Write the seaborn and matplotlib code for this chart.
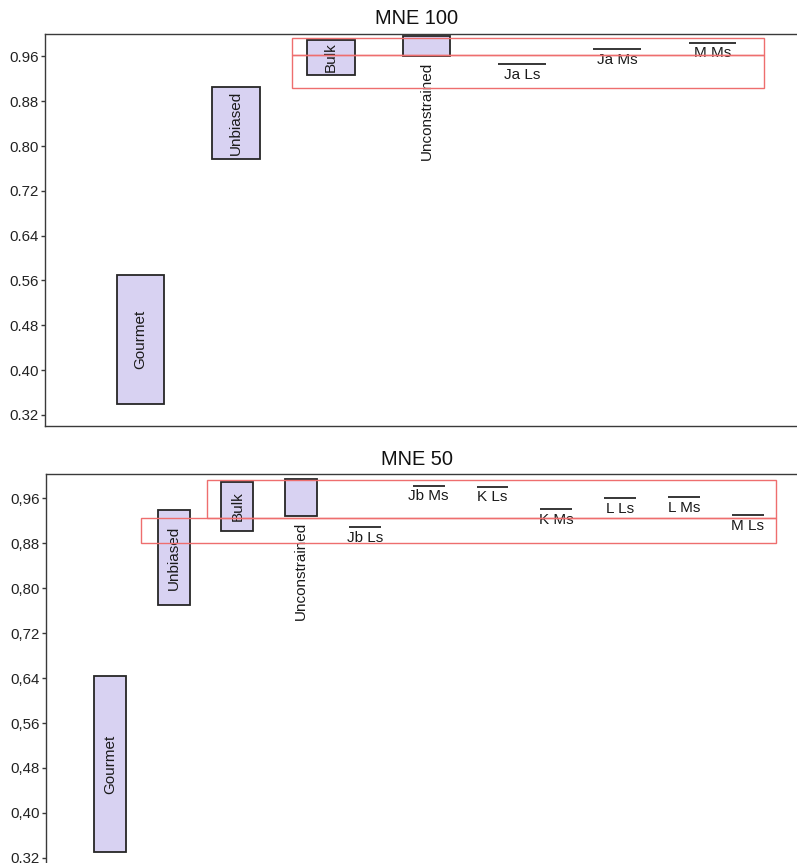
import pandas as pd
import seaborn as sns
import matplotlib.pyplot as plt
from matplotlib.patches import Rectangle
from matplotlib.ticker import FuncFormatter

# ----------- values -----------------------------------------

cats_100 = ["Gourmet", "Unbiased", "Bulk", "Unconstrained", "Ja Ls", "Ja Ms", "M Ms"]
low_100 = [0.340, 0.776, 0.927, 0.960, 0.946, 0.973, 0.984]
high_100 = [0.570, 0.905, 0.989, 0.996, 0.946, 0.973, 0.984]

cats_50 = ["Gourmet", "Unbiased", "Bulk", "Unconstrained", "Jb Ls", "Jb Ms",
           "K Ls", "K Ms", "L Ls", "L Ms", "M Ls"]
low_50 = [0.330, 0.770, 0.902, 0.928, 0.909, 0.983, 0.981, 0.941, 0.960, 0.962, 0.930]
high_50 = [0.644, 0.940, 0.990, 0.994, 0.909, 0.983, 0.981, 0.941, 0.960, 0.962, 0.930]

# red highlight boxes (x0, x1, y0, y1) in category / value units
boxes_100 = [(1.59, 6.54, 0.9625, 0.993), (1.59, 6.54, 0.9035, 0.9625)]
boxes_50 = [(1.525, 10.45, 0.9244, 0.9926), (0.49, 10.45, 0.880, 0.9244)]

yticks = [0.32, 0.40, 0.48, 0.56, 0.64, 0.72, 0.80, 0.88, 0.96]

# ----------- style ---------------------

sns.set_style("ticks")
plt.rcParams['font.family'] = ['Liberation Sans', 'DejaVu Sans']

bar_color = "#d8d2f2"
edge_color = "#262626"
spine_color = "#3a3a3a"
red = "#ee6e6e"


def draw_panel(ax, cats, low, high, boxes, title, xmax, comma=False):
    df = pd.DataFrame({"cat": cats, "low": low, "high": high})
    df["height"] = df["high"] - df["low"]

    sns.barplot(data=df, x="cat", y="height", order=cats, bottom=df["low"].values,
                color=bar_color, saturation=1, edgecolor=edge_color, linewidth=1.3,
                width=0.5, errorbar=None, ax=ax)

    for i, row in df.iterrows():
        if row["height"] == 0:
            # single value -> label under the line
            ax.annotate(row["cat"], (i, row["low"]), xytext=(0, -2.5),
                        textcoords="offset points", ha="center", va="top",
                        fontsize=11, color="#1a1a1a")
        elif row["cat"] == "Unconstrained":
            ax.annotate(row["cat"], (i, row["low"]), xytext=(0, -3.5),
                        textcoords="offset points", ha="center", va="top",
                        rotation=90, fontsize=11, color="#1a1a1a")
        else:
            ax.text(i, (row["low"] + row["high"]) / 2, row["cat"], rotation=90,
                    ha="center", va="center", fontsize=11, color="#1a1a1a")

    for x0, x1, y0, y1 in boxes:
        ax.add_patch(Rectangle((x0, y0), x1 - x0, y1 - y0, fill=False,
                               edgecolor=red, linewidth=1.0, zorder=5))

    ax.set_xlim(-1, xmax)
    ax.set_ylim(0.30, 1.0 if not comma else 1.003)
    ax.set_xticks([])
    ax.set_yticks(yticks)
    if comma:
        ax.yaxis.set_major_formatter(FuncFormatter(lambda v, p: f"{v:.2f}".replace(".", ",")))
    else:
        ax.yaxis.set_major_formatter(FuncFormatter(lambda v, p: f"{v:.2f}"))
    ax.set_xlabel("")
    ax.set_ylabel("")
    ax.tick_params(axis="y", length=3, width=1, pad=1.5, labelsize=10.8,
                   color=spine_color, labelcolor="#222222")
    for s in ["left", "top", "bottom"]:
        ax.spines[s].set_visible(True)
        ax.spines[s].set_color(spine_color)
        ax.spines[s].set_linewidth(1.0)
    ax.spines["right"].set_visible(False)
    ax.set_title(title, fontsize=14.4, x=0.489, pad=7, color="#111111")


fig = plt.figure(figsize=(7.97, 8.63), dpi=100)
ax1 = fig.add_axes([45 / 797, 1 - 426 / 863, 760 / 797, 392 / 863])
ax2 = fig.add_axes([46 / 797, 1 - 869 / 863, 759 / 797, 394.7 / 863])

draw_panel(ax1, cats_100, low_100, high_100, boxes_100, "MNE 100", 6.97)
draw_panel(ax2, cats_50, low_50, high_50, boxes_50, "MNE 50", 10.90, comma=True)

fig.savefig("out.png", dpi=100)
